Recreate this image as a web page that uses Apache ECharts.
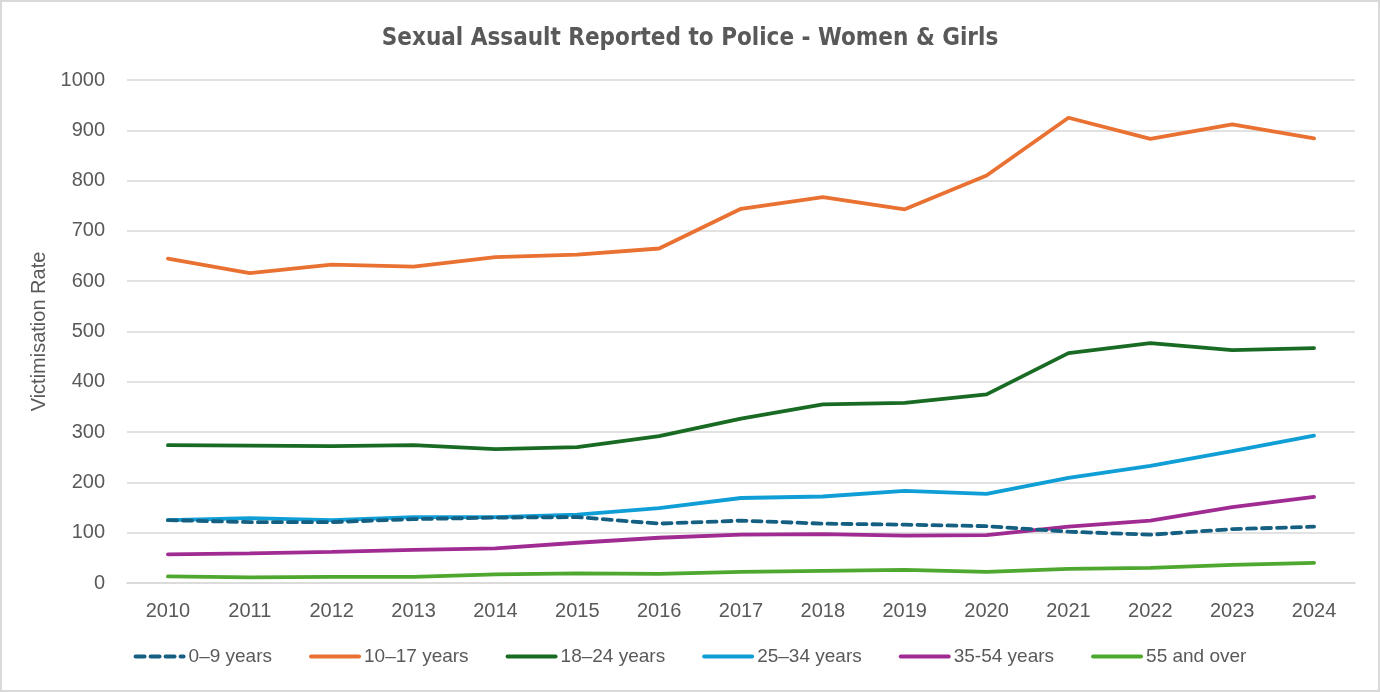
<!DOCTYPE html>
<html>
<head>
<meta charset="utf-8">
<title>Sexual Assault Reported to Police - Women & Girls</title>
<script src="https://cdn.jsdelivr.net/npm/echarts@6.0.0/dist/echarts.min.js"></script>
<style>
  html, body { margin: 0; padding: 0; background: #fff; }
  #chart { width: 1380px; height: 692px; box-sizing: border-box; border: 2px solid #d9d9d9; }
</style>
</head>
<body>
<div id="chart"></div>
<script>
// 年份
var years = ['2010', '2011', '2012', '2013', '2014', '2015', '2016', '2017', '2018', '2019', '2020', '2021', '2022', '2023', '2024'];

// 各年龄段受害率
var age0to9 = [125, 121, 121, 127, 130, 131, 118, 124, 118, 116, 113, 102, 96, 107, 112];
var age10to17 = [645, 616, 633, 629, 648, 653, 665, 744, 767, 743, 810, 925, 883, 912, 884];
var age18to24 = [274, 273, 272, 274, 266, 270, 292, 327, 355, 358, 375, 457, 477, 463, 467];
var age25to34 = [125, 129, 125, 131, 131, 136, 149, 169, 172, 183, 177, 209, 233, 262, 293];
var age35to54 = [57, 59, 62, 66, 69, 80, 90, 96, 97, 94, 95, 112, 124, 151, 171];
var age55plus = [13, 11, 12, 12, 17, 19, 18, 22, 24, 26, 22, 28, 30, 36, 40];

var seriesNames = ['0–9 years', '10–17 years', '18–24 years', '25–34 years', '35-54 years', '55 and over'];
var seriesData = [age0to9, age10to17, age18to24, age25to34, age35to54, age55plus];
var seriesColors = ['#156082', '#E97132', '#196B24', '#0F9ED5', '#A02B93', '#4EA72E'];

var textColor = '#595959';
var labelFont = "'Liberation Sans', Arial, sans-serif";

var myChart = echarts.init(document.getElementById('chart'));

var series = seriesNames.map(function (name, i) {
  return {
    name: name,
    type: 'line',
    data: seriesData[i],
    symbol: 'none',
    z: i === 0 ? 3 : 2,
    lineStyle: {
      color: seriesColors[i],
      width: 3.8,
      type: i === 0 ? [9, 6] : 'solid',
      cap: 'round'
    },
    itemStyle: { color: seriesColors[i] }
  };
});

var option = {
  animation: false,
  title: {
    text: 'Sexual Assault Reported to Police - Women & Girls',
    left: 'center',
    top: 20,
    textStyle: {
      fontFamily: "'Liberation Sans Narrow', 'DejaVu Sans Condensed', sans-serif",
      fontSize: 24,
      fontWeight: 'bold',
      color: textColor
    }
  },
  legend: {
    bottom: 19,
    left: 'center',
    itemWidth: 48,
    itemHeight: 12,
    itemGap: 37,
    data: seriesNames,
    itemStyle: { opacity: 0 },
    lineStyle: { width: 4 },
    textStyle: { fontFamily: labelFont, fontSize: 19, color: textColor }
  },
  grid: {
    left: 125,
    right: 23,
    top: 78,
    bottom: 107
  },
  xAxis: {
    type: 'category',
    data: years,
    boundaryGap: true,
    axisLine: { show: true, lineStyle: { color: '#d9d9d9', width: 1.5 } },
    axisTick: { show: false },
    axisLabel: { fontFamily: labelFont, fontSize: 20, color: textColor, margin: 18 }
  },
  yAxis: {
    type: 'value',
    min: 0,
    max: 1000,
    interval: 100,
    name: 'Victimisation Rate',
    nameLocation: 'middle',
    nameGap: 77,
    nameTextStyle: { fontFamily: labelFont, fontSize: 20, color: textColor },
    axisLine: { show: false },
    axisTick: { show: false },
    axisLabel: {
      fontFamily: labelFont, fontSize: 20, color: textColor, margin: 22,
      formatter: function (v) { return String(v); }
    },
    splitLine: { lineStyle: { color: '#d9d9d9', width: 1.5 } }
  },
  series: series
};

myChart.setOption(option);
</script>
</body>
</html>
